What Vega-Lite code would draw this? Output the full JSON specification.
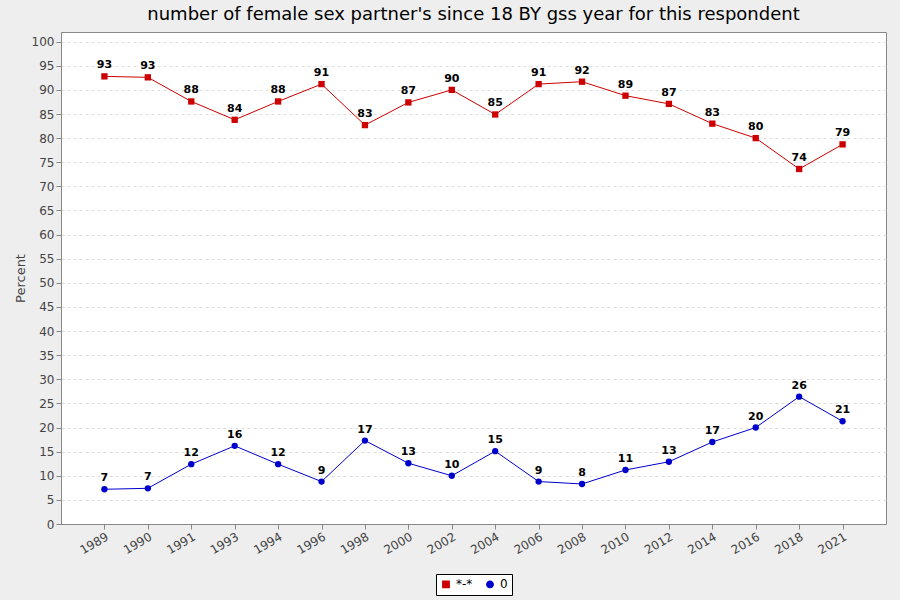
{
  "$schema": "https://vega.github.io/schema/vega-lite/v6.json",
  "autosize": {"type": "fit", "contains": "padding"},
  "width": 900, "height": 600,
  "background": "#eeeeee",
  "padding": {"left": 14, "right": 14, "top": 6, "bottom": 4},
  "title": {"text": "number of female sex partner's since 18 BY gss year for this respondent", "fontSize": 18, "fontWeight": "normal", "font": "DejaVu Sans", "color": "#000000", "offset": 8},
  "config": {
    "view": {"fill": "white", "stroke": "#888888"},
    "font": "DejaVu Sans",
    "legend": {"layout": {"bottom": {"anchor": "middle"}}}
  },
  "data": {"values": [
    {"year": "1989", "s": "*-*", "v": 92.8}, {"year": "1990", "s": "*-*", "v": 92.6},
    {"year": "1991", "s": "*-*", "v": 87.6}, {"year": "1993", "s": "*-*", "v": 83.8},
    {"year": "1994", "s": "*-*", "v": 87.6}, {"year": "1996", "s": "*-*", "v": 91.2},
    {"year": "1998", "s": "*-*", "v": 82.7}, {"year": "2000", "s": "*-*", "v": 87.4},
    {"year": "2002", "s": "*-*", "v": 90.0}, {"year": "2004", "s": "*-*", "v": 84.9},
    {"year": "2006", "s": "*-*", "v": 91.2}, {"year": "2008", "s": "*-*", "v": 91.7},
    {"year": "2010", "s": "*-*", "v": 88.8}, {"year": "2012", "s": "*-*", "v": 87.1},
    {"year": "2014", "s": "*-*", "v": 83.0}, {"year": "2016", "s": "*-*", "v": 80.0},
    {"year": "2018", "s": "*-*", "v": 73.6}, {"year": "2021", "s": "*-*", "v": 78.7},
    {"year": "1989", "s": "0", "v": 7.2}, {"year": "1990", "s": "0", "v": 7.4},
    {"year": "1991", "s": "0", "v": 12.4}, {"year": "1993", "s": "0", "v": 16.2},
    {"year": "1994", "s": "0", "v": 12.4}, {"year": "1996", "s": "0", "v": 8.8},
    {"year": "1998", "s": "0", "v": 17.3}, {"year": "2000", "s": "0", "v": 12.6},
    {"year": "2002", "s": "0", "v": 10.0}, {"year": "2004", "s": "0", "v": 15.1},
    {"year": "2006", "s": "0", "v": 8.8}, {"year": "2008", "s": "0", "v": 8.3},
    {"year": "2010", "s": "0", "v": 11.2}, {"year": "2012", "s": "0", "v": 12.9},
    {"year": "2014", "s": "0", "v": 17.0}, {"year": "2016", "s": "0", "v": 20.0},
    {"year": "2018", "s": "0", "v": 26.4}, {"year": "2021", "s": "0", "v": 21.3}
  ]},
  "encoding": {
    "x": {"field": "year", "type": "ordinal", "title": null,
      "scale": {"type": "point", "padding": 1.4},
      "axis": {"labelAngle": -30, "labelFontSize": 12, "labelColor": "#444444", "domainColor": "#888888", "tickColor": "#888888", "grid": false}},
    "y": {"field": "v", "type": "quantitative", "title": "Percent",
      "scale": {"domain": [0, 102], "nice": false},
      "axis": {"values": [0,5,10,15,20,25,30,35,40,45,50,55,60,65,70,75,80,85,90,95,100], "labelFontSize": 12, "labelColor": "#444444", "titleFontSize": 13, "titleFontWeight": "normal", "titleColor": "#444444", "gridDash": [3,3], "gridColor": "#dddddd", "domainColor": "#888888", "tickColor": "#888888"}},
    "color": {"field": "s", "type": "nominal", "title": null,
      "scale": {"domain": ["*-*", "0"], "range": ["#cc0000", "#0000cc"]},
      "legend": {"orient": "bottom", "direction": "horizontal", "strokeColor": "#000000", "fillColor": "white", "padding": 4, "labelFontSize": 12, "symbolSize": 40}}
  },
  "layer": [
    {"mark": {"type": "line", "strokeWidth": 1}},
    {"mark": {"type": "point", "filled": true, "opacity": 1, "size": 40},
      "encoding": {"shape": {"field": "s", "type": "nominal", "scale": {"domain": ["*-*", "0"], "range": ["square", "circle"]}, "legend": null}}},
    {"mark": {"type": "text", "dy": -11, "fontSize": 11, "fontWeight": "bold", "color": "#000000"},
      "encoding": {"text": {"field": "v", "type": "quantitative", "format": ".0f"}, "color": {"value": "#000000"}}}
  ]
}
